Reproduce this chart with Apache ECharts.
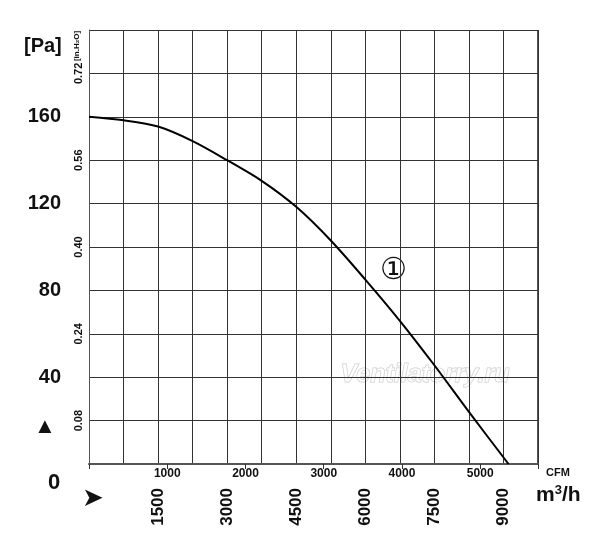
<!DOCTYPE html>
<html><head><meta charset="utf-8">
<script src="https://cdn.jsdelivr.net/npm/echarts@6/dist/echarts.min.js"></script>
<style>html,body{margin:0;background:#fff}#c{width:600px;height:556px}</style>
</head><body><div id="c"></div>
<script>
const flowM3h = [0, 750, 1500, 2250, 3000, 3750, 4500, 5250, 6000, 6750, 7500, 8250, 9110];
const pressurePa = [160, 158.4, 155.5, 148.8, 140, 130.5, 118.5, 103, 85, 66, 45.5, 24, 0];
const paTicks = [40, 80, 120, 160];
const inH2OTicks = [20, 60, 100, 140, 180];
const m3hTicks = [1500, 3000, 4500, 6000, 7500, 9000];
const cfmTicks = [1000, 2000, 3000, 4000, 5000];
const FONT = '"Liberation Sans",Arial';
const chart = echarts.init(document.getElementById('c'));
const xMax = 9750;
chart.setOption({
  animation:false,
  grid:{left:89,right:62,top:30,bottom:92},
  xAxis:[
    {type:'value',min:0,max:xMax,interval:750,position:'bottom',offset:20,
     axisLine:{show:false},axisTick:{show:false},
     splitLine:{show:true,lineStyle:{color:'#333',width:1}},
     axisLabel:{rotate:90,fontSize:17,fontWeight:'bold',color:'#111',fontFamily:FONT,margin:4,
       formatter:v=>m3hTicks.includes(v)?String(v):''}},
    {type:'value',min:0,max:xMax/1.699,interval:1000,position:'bottom',
     axisLine:{show:true,lineStyle:{color:'#555',width:2}},
     axisTick:{show:true,length:5,lineStyle:{color:'#333'}},
     splitLine:{show:false},
     axisLabel:{fontSize:12,fontWeight:'bold',color:'#111',fontFamily:FONT,margin:4,
       formatter:v=>cfmTicks.includes(v)?String(v):''}}
  ],
  yAxis:[
    {type:'value',min:0,max:200,interval:20,
     axisLine:{show:true,lineStyle:{color:'#555',width:1}},axisTick:{show:false},
     splitLine:{show:true,lineStyle:{color:'#333',width:1}},
     axisLabel:{fontSize:20,fontWeight:'bold',color:'#111',fontFamily:FONT,margin:28,
       formatter:v=>paTicks.includes(v)?String(v):''}},
    {type:'value',min:0,max:200,interval:20,position:'left',
     axisLine:{show:false},axisTick:{show:false},splitLine:{show:false},
     axisLabel:{rotate:90,fontSize:11,fontWeight:'bold',color:'#111',fontFamily:FONT,margin:5,
       formatter:v=>inH2OTicks.includes(v)?(v/250).toFixed(2):''}}
  ],
  series:[{type:'line',smooth:0.3,symbol:'none',xAxisIndex:0,yAxisIndex:0,
    lineStyle:{color:'#000',width:2},
    data:flowM3h.map((x,i)=>[x,pressurePa[i]])}],
  graphic:[
    {type:'rect',shape:{x:537,y:30,width:1.5,height:434},style:{fill:'#555'}},
    {type:'text',left:24,top:36,style:{text:'[Pa]',font:'bold 20px '+FONT,fill:'#111'}},
    {type:'text',x:77,y:46,rotation:Math.PI/2,style:{text:'[in.H₂O]',font:'bold 8px '+FONT,fill:'#111',align:'center',verticalAlign:'middle'}},
    {type:'text',left:48,top:472,style:{text:'0',font:'bold 22px '+FONT,fill:'#111'}},
    {type:'text',left:34,top:416,style:{text:'▲',font:'bold 22px '+FONT,fill:'#111'}},
    {type:'text',left:82,top:486,style:{text:'➤',font:'26px '+FONT,fill:'#111'}},
    {type:'text',left:546,top:467,style:{text:'CFM',font:'bold 11px '+FONT,fill:'#111'}},
    {type:'text',left:536,top:484,style:{rich:{a:{font:'bold 21px '+FONT,fill:'#111'},s:{font:'bold 13px '+FONT,fill:'#111',verticalAlign:'top',padding:[0,0,10,0]}},text:'{a|m}{s|3}{a|/h}'}},
    {type:'text',left:380,top:256,style:{text:'①',font:'30px "DejaVu Sans"',fill:'#111'}},
    {type:'text',left:340,top:362,style:{text:'Ventilatorry.ru',font:'italic bold 25px '+FONT,fill:'rgba(255,255,255,0.6)',stroke:'rgba(190,190,190,0.8)',lineWidth:1}}
  ]
});
</script></body></html>
